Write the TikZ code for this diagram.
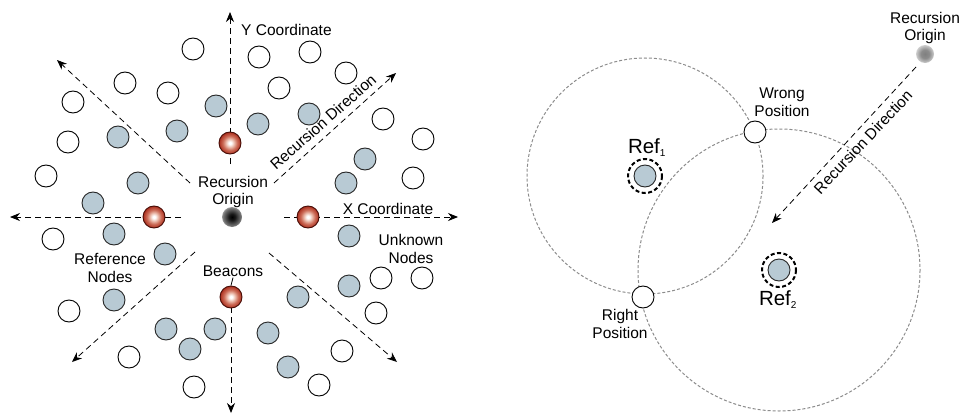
\documentclass[tikz,border=0pt]{standalone}
\usepackage{fontspec}
\setmainfont{Liberation Sans}
\usetikzlibrary{arrows.meta,backgrounds}
\definecolor{refblue}{RGB}{184,202,212}
\definecolor{beaconedge}{RGB}{70,12,6}
\definecolor{circgray}{RGB}{140,140,140}
\definecolor{bcA}{RGB}{236,190,175}
\definecolor{bcB}{RGB}{205,110,90}
\definecolor{bcC}{RGB}{170,45,28}
\definecolor{bcD}{RGB}{135,28,14}
\pgfdeclareradialshading{beaconshade}{\pgfpoint{0bp}{0bp}}{color(0bp)=(white); color(3bp)=(white); color(9bp)=(bcA); color(16bp)=(bcB); color(25bp)=(bcC); color(34bp)=(bcD); color(50bp)=(bcD)}
\pgfdeclareradialshading{originshade}{\pgfpoint{0bp}{0bp}}{color(0bp)=(black); color(8bp)=(black!90); color(22bp)=(black!55); color(35bp)=(white); color(50bp)=(white)}
\pgfdeclareradialshading{originshadeB}{\pgfpoint{0bp}{0bp}}{color(0bp)=(black!50); color(12bp)=(black!45); color(35bp)=(white); color(50bp)=(white)}
\tikzset{
  x=1pt,y=-1pt,
  lbl/.style={font=\fontsize{15.5}{17.5}\selectfont, inner sep=1pt, align=center},
  wnode/.style={circle, draw=black, line width=0.9pt, fill=white, minimum size=22pt, inner sep=0pt},
  bnode/.style={circle, draw=black!85, line width=0.9pt, fill=refblue, minimum size=22pt, inner sep=0pt},
  beacon/.style={circle, draw=beaconedge, line width=0.9pt, minimum size=22pt, inner sep=0pt, shading=beaconshade},
  dirarrow/.style={dashed, dash pattern=on 6pt off 4pt, line width=0.8pt, -{Stealth[length=10pt,width=8pt]}},
  rangecirc/.style={draw=circgray, line width=1pt, dash pattern=on 3pt off 2pt},
  refring/.style={draw=black, line width=2pt, dash pattern=on 4pt off 2.5pt},
}
\begin{document}
\begin{tikzpicture}
\useasboundingbox (0,0) rectangle (973,417);
% ---------------- left panel ----------------
\foreach \p [count=\i] in {(193,49),(259,57),(310,52),(346,73),(125,83),(168,93),(279,88),(73,102),(383,119),(68,142),(423,139),(46,176),(413,178),(53,239),(381,278),(422,278),(69,311),(376,313),(129,357),(342,351),(319,385),(194,387)}
  \node[wnode] (w\i) at \p {};
\foreach \p [count=\i] in {(216,106),(309,114),(258,124),(118,137),(177,131),(365,159),(138,183),(346,183),(93,203),(114,234),(165,254),(349,236),(349,286),(114,300),(298,297),(166,329),(215,329),(190,349),(268,333),(288,367)}
  \node[bnode] (b\i) at \p {};
\node[beacon] (bcT) at (230,143) {};
\node[beacon] (bcL) at (154,217) {};
\node[beacon] (bcR) at (308,217) {};
\node[beacon] (bcBot) at (231,297) {};
\node[circle, minimum size=20pt, inner sep=0pt, shading=originshade] (orig) at (232,217) {};

\coordinate (yS) at (230,164);
\coordinate (yT) at (230,12);
\coordinate (ybT) at (231,413);
\coordinate (xlS) at (181,217);
\coordinate (xlT) at (10,217);
\coordinate (xrS) at (284,217);
\coordinate (xrT) at (458,217);
\coordinate (nwS) at (190,183);
\coordinate (nwT) at (57,60);
\coordinate (neS) at (274,183);
\coordinate (neT) at (396,73);
\coordinate (swS) at (195,252);
\coordinate (swT) at (72,362);
\coordinate (seS) at (269,253);
\coordinate (seT) at (397,362);
\begin{scope}[on background layer]
\draw[dirarrow] (yS) -- (yT);
\draw[dirarrow] (bcBot.center) -- (ybT);
\draw[dirarrow] (xlS) -- (xlT);
\draw[dirarrow] (xrS) -- (xrT);
\draw[dirarrow] (nwS) -- (nwT);
\draw[dirarrow] (neS) -- (neT);
\draw[dirarrow] (swS) -- (swT);
\draw[dirarrow] (seS) -- (seT);
\end{scope}

\node[lbl, anchor=west] (ylab) at (240,30) {Y Coordinate};
\node[lbl] (xlab) at (388,209) {X Coordinate};
\node[lbl] (rolab) at (233,192) {Recursion\\Origin};
\node[lbl, rotate=41.5] (rdlab) at (323,122) {Recursion Direction};
\node[lbl] (reflab) at (110,268) {Reference\\Nodes};
\node[lbl] (unklab) at (411,249) {Unknown\\Nodes};
\node[lbl] (beaclab) at (233,271) {Beacons};
\draw[line width=0.8pt] (beaclab.south) -- (bcBot.north);

% ---------------- right panel ----------------
\node[bnode] (ref1) at (645,176) {};
\node[bnode] (ref2) at (779,270) {};
\begin{scope}[on background layer]
\draw[rangecirc] (ref1.center) circle (118);
\draw[rangecirc] (ref2.center) circle (141);
\end{scope}
\draw[refring] (ref1.center) circle (17);
\draw[refring] (ref2.center) circle (17);
\node[wnode] (wrong) at (755,132) {};
\node[wnode] (right) at (643,297) {};
\node[circle, minimum size=18pt, inner sep=0pt, shading=originshadeB] (orig2) at (925,54) {};
\coordinate (rdS) at (916,67);
\coordinate (rdT) at (772,223);
\draw[dirarrow] (rdS) -- (rdT);

\node[lbl] (wronglab) at (782,102) {Wrong\\Position};
\node[lbl] (rightlab) at (620,324) {Right\\Position};
\node[lbl] (ro2lab) at (925,28) {Recursion\\Origin};
\node[lbl, rotate=46.7] (rd2lab) at (863,142) {Recursion Direction};
\node[font=\fontsize{20.5}{22}\selectfont, inner sep=1pt] (ref1lab) at (647,148) {Ref\textsubscript{\fontsize{10}{10}\selectfont 1}};
\node[font=\fontsize{20.5}{22}\selectfont, inner sep=1pt] (ref2lab) at (778,300) {Ref\textsubscript{\fontsize{10}{10}\selectfont 2}};
\end{tikzpicture}
\end{document}
